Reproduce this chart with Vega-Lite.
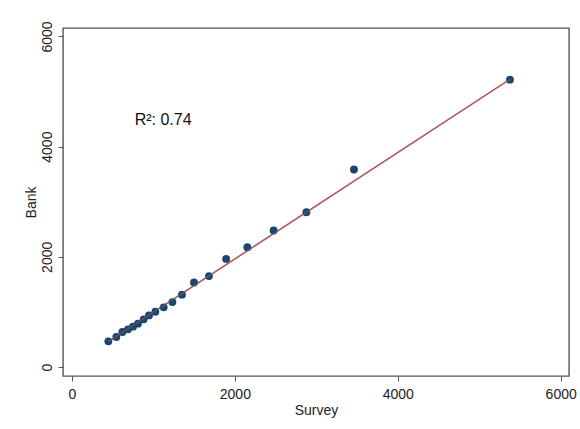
{
  "$schema": "https://vega.github.io/schema/vega-lite/v6.json",
  "autosize": "none",
  "width": 506,
  "height": 348,
  "padding": {"left": 63, "top": 28, "right": 11, "bottom": 53},
  "background": "white",
  "config": {
    "font": "Liberation Sans",
    "view": {"stroke": "#555555", "strokeWidth": 1.4},
    "axis": {
      "domain": false,
      "grid": false,
      "tickColor": "#555555",
      "tickSize": 5,
      "labelFontSize": 14,
      "labelColor": "#222222",
      "titleFontSize": 14,
      "titleFontWeight": "normal",
      "titleColor": "#222222"
    }
  },
  "datasets": {
    "pts": [
      {"Survey": 447, "Bank": 466},
      {"Survey": 545, "Bank": 544},
      {"Survey": 619, "Bank": 635},
      {"Survey": 688, "Bank": 684},
      {"Survey": 749, "Bank": 732},
      {"Survey": 810, "Bank": 787},
      {"Survey": 880, "Bank": 865},
      {"Survey": 945, "Bank": 937},
      {"Survey": 1024, "Bank": 1004},
      {"Survey": 1126, "Bank": 1083},
      {"Survey": 1233, "Bank": 1178},
      {"Survey": 1350, "Bank": 1313},
      {"Survey": 1498, "Bank": 1536},
      {"Survey": 1682, "Bank": 1650},
      {"Survey": 1893, "Bank": 1962},
      {"Survey": 2153, "Bank": 2176},
      {"Survey": 2476, "Bank": 2478},
      {"Survey": 2878, "Bank": 2810},
      {"Survey": 3462, "Bank": 3584},
      {"Survey": 5377, "Bank": 5216}
    ],
    "fit": [
      {"Survey": 447, "Bank": 462},
      {"Survey": 5377, "Bank": 5222}
    ],
    "ann": [{"Survey": 770, "Bank": 4491, "label": "R²: 0.74"}]
  },
  "layer": [
    {
      "data": {"name": "fit"},
      "mark": {"type": "line", "color": "#b0555a", "strokeWidth": 1.4},
      "encoding": {
        "x": {
          "field": "Survey", "type": "quantitative",
          "scale": {"domain": [-110, 6102], "nice": false, "zero": false},
          "axis": {"values": [0, 2000, 4000, 6000], "format": "d", "title": "Survey", "labelPadding": 6, "titlePadding": 2}
        },
        "y": {
          "field": "Bank", "type": "quantitative",
          "scale": {"domain": [-163, 6153], "nice": false, "zero": false},
          "axis": {"values": [0, 2000, 4000, 6000], "format": "d", "title": "Bank", "labelAngle": -90, "labelAlign": "center", "labelBaseline": "bottom", "labelPadding": 4, "titlePadding": 2}
        }
      }
    },
    {
      "data": {"name": "pts"},
      "mark": {"type": "circle", "size": 62, "color": "#1a476f", "opacity": 1},
      "encoding": {
        "x": {"field": "Survey", "type": "quantitative"},
        "y": {"field": "Bank", "type": "quantitative"}
      }
    },
    {
      "data": {"name": "fit"},
      "mark": {"type": "line", "color": "#b0555a", "strokeWidth": 1.2, "opacity": 0.6},
      "encoding": {
        "x": {"field": "Survey", "type": "quantitative"},
        "y": {"field": "Bank", "type": "quantitative"}
      }
    },
    {
      "data": {"name": "ann"},
      "mark": {"type": "text", "align": "left", "baseline": "middle", "fontSize": 16, "color": "#111111"},
      "encoding": {
        "x": {"field": "Survey", "type": "quantitative"},
        "y": {"field": "Bank", "type": "quantitative"},
        "text": {"field": "label"}
      }
    }
  ]
}
